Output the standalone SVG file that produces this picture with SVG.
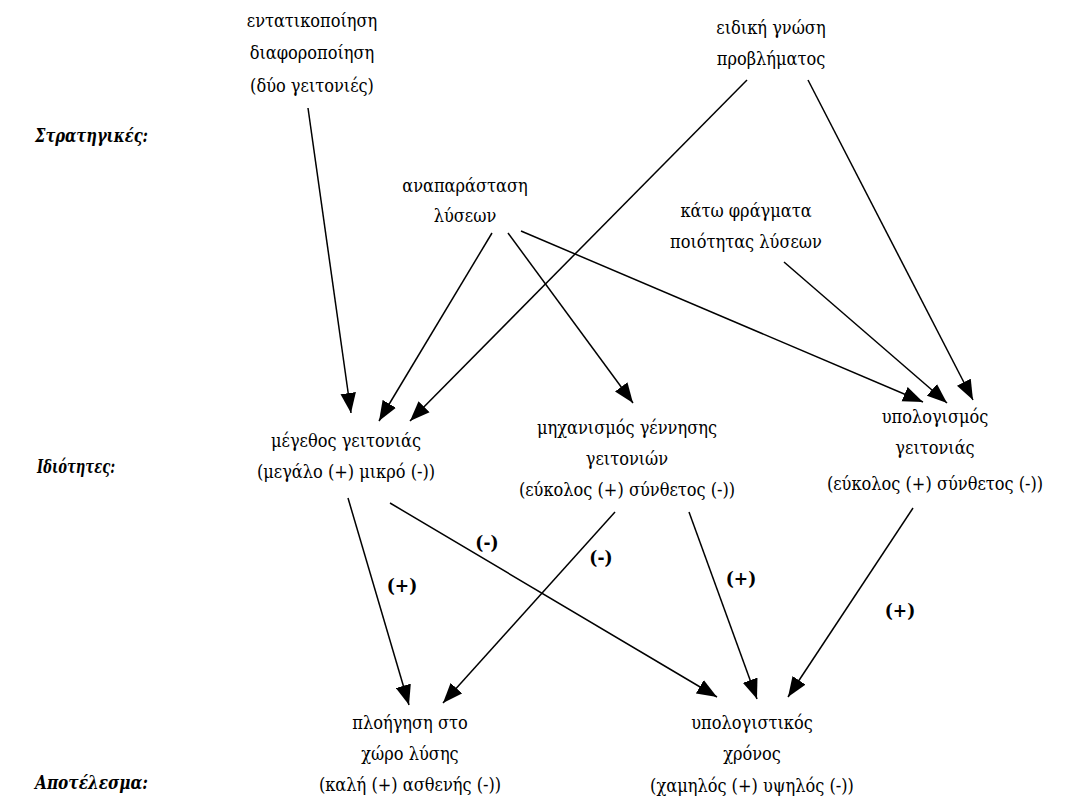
<svg xmlns="http://www.w3.org/2000/svg" width="1086" height="801" viewBox="0 0 1086 801">
<style>
text{font-family:"DejaVu Serif Condensed","DejaVu Serif",serif;font-stretch:condensed;font-size:18px;fill:#000}
.n text{text-anchor:middle}
.lab{font-weight:bold;font-style:italic;font-size:19px}
.sg{font-weight:bold;text-anchor:middle;font-size:19px}
.e line{stroke:#000;stroke-width:1.5;marker-end:url(#ah)}
</style>
<defs>
<marker id="ah" markerUnits="userSpaceOnUse" markerWidth="20" markerHeight="16" refX="18" refY="7" orient="auto" viewBox="0 0 18 14">
<path d="M0,0 L18,7 L0,14 z" fill="#000"/>
</marker>
</defs>
<rect width="1086" height="801" fill="#fff"/>
<g id="labels">
<text class="lab" x="35" y="142" textLength="113" lengthAdjust="spacingAndGlyphs">Στρατηγικές:</text>
<text class="lab" x="37" y="473" textLength="78" lengthAdjust="spacingAndGlyphs">Ιδιότητες:</text>
<text class="lab" x="35" y="789" textLength="113" lengthAdjust="spacingAndGlyphs">Αποτέλεσμα:</text>
</g>
<g class="n" id="n_entatiko"><text x="312" y="27">εντατικοποίηση</text><text x="312" y="59">διαφοροποίηση</text><text x="312" y="92">(δύο γειτονιές)</text></g>
<g class="n" id="n_eidiki"><text x="771" y="34">ειδική γνώση</text><text x="771" y="65">προβλήματος</text></g>
<g class="n" id="n_anaparastasi"><text x="465" y="192">αναπαράσταση</text><text x="465" y="222">λύσεων</text></g>
<g class="n" id="n_kato"><text x="746" y="217">κάτω φράγματα</text><text x="746" y="248">ποιότητας λύσεων</text></g>
<g class="n" id="n_megethos"><text x="346" y="447">μέγεθος γειτονιάς</text><text x="346" y="478">(μεγάλο (+) μικρό (-))</text></g>
<g class="n" id="n_mixanismos"><text x="627" y="434">μηχανισμός γέννησης</text><text x="627" y="465">γειτονιών</text><text x="627" y="496">(εύκολος (+) σύνθετος (-))</text></g>
<g class="n" id="n_ypologismos"><text x="935" y="423">υπολογισμός</text><text x="935" y="454">γειτονιάς</text><text x="935" y="490">(εύκολος (+) σύνθετος (-))</text></g>
<g class="n" id="n_ploigisi"><text x="410" y="729">πλοήγηση στο</text><text x="410" y="760">χώρο λύσης</text><text x="410" y="791">(καλή (+) ασθενής (-))</text></g>
<g class="n" id="n_xronos"><text x="752" y="729">υπολογιστικός</text><text x="752" y="760">χρόνος</text><text x="752" y="792">(χαμηλός (+) υψηλός (-))</text></g>
<g id="signs">
<text class="sg" x="402" y="592">(+)</text>
<text class="sg" x="487" y="549">(-)</text>
<text class="sg" x="601" y="564">(-)</text>
<text class="sg" x="741" y="585">(+)</text>
<text class="sg" x="900" y="617">(+)</text>
</g>
<g class="e" id="connectors">
<line x1="308" y1="108" x2="351" y2="413"/>
<line x1="492" y1="233" x2="379" y2="421"/>
<line x1="747" y1="80" x2="410" y2="421"/>
<line x1="508" y1="233" x2="633" y2="403"/>
<line x1="521" y1="231" x2="923" y2="402"/>
<line x1="784" y1="262" x2="947" y2="403"/>
<line x1="808" y1="80" x2="973" y2="400"/>
<line x1="348" y1="498" x2="409" y2="705"/>
<line x1="390" y1="503" x2="717" y2="697"/>
<line x1="615" y1="512" x2="443" y2="703"/>
<line x1="689" y1="512" x2="757" y2="699"/>
<line x1="913" y1="508" x2="788" y2="697"/>
</g>
</svg>
